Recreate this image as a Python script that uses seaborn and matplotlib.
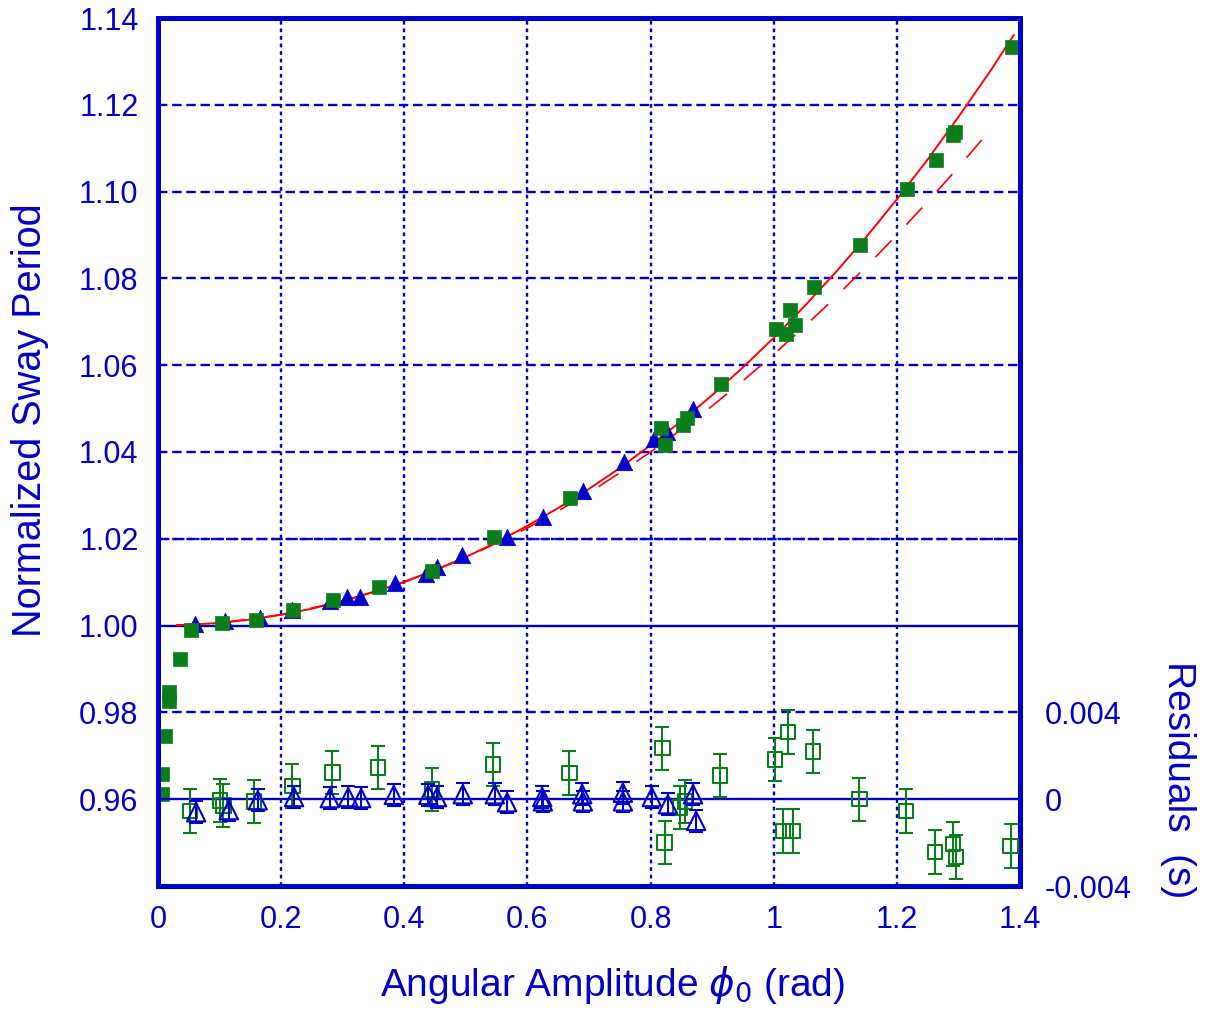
import matplotlib
matplotlib.use("Agg")
import matplotlib.pyplot as plt
import seaborn as sns
import pandas as pd

# ---------------- data ----------------
# exact theory curve (solid red)
theory_x = [0.03, 0.05, 0.10, 0.15, 0.20, 0.25, 0.30, 0.35, 0.40, 0.45, 0.50, 0.55,
            0.60, 0.65, 0.70, 0.75, 0.80, 0.85, 0.90, 0.95, 1.00, 1.05, 1.10, 1.15,
            1.20, 1.25, 1.30, 1.35, 1.39]
theory_T = [1.0001, 1.0002, 1.0006, 1.0014, 1.0025, 1.0039, 1.0057, 1.0077, 1.0101,
            1.0128, 1.0158, 1.0192, 1.0230, 1.0271, 1.0315, 1.0363, 1.0416, 1.0471,
            1.0531, 1.0595, 1.0663, 1.0736, 1.0813, 1.0895, 1.0982, 1.1074, 1.1172,
            1.1274, 1.1361]
# first-order approximation (dashed red)
approx_x = [0.03, 0.10, 0.20, 0.30, 0.40, 0.50, 0.60, 0.65, 0.70, 0.75, 0.80, 0.85,
            0.90, 0.95, 1.00, 1.05, 1.10, 1.15, 1.20, 1.25, 1.30, 1.36]
approx_T = [1.0001, 1.0006, 1.0025, 1.0056, 1.0100, 1.0156, 1.0225, 1.0264, 1.0306,
            1.0352, 1.0400, 1.0452, 1.0506, 1.0564, 1.0625, 1.0689, 1.0756, 1.0827,
            1.0900, 1.0977, 1.1056, 1.1156]

# green filled squares
sq_x = [0.006, 0.006, 0.011, 0.018, 0.018, 0.036, 0.054, 0.104, 0.159, 0.219, 0.284,
        0.359, 0.445, 0.546, 0.669, 0.817, 0.823, 0.853, 0.859, 0.914, 1.004, 1.020,
        1.026, 1.035, 1.065, 1.140, 1.216, 1.264, 1.291, 1.294, 1.387]
sq_T = [0.9612, 0.9658, 0.9745, 0.9846, 0.9826, 0.9922, 0.9991, 1.0005, 1.0014, 1.0035,
        1.0060, 1.0090, 1.0125, 1.0203, 1.0295, 1.0456, 1.0417, 1.0463, 1.0479, 1.0557,
        1.0684, 1.0672, 1.0728, 1.0693, 1.0780, 1.0877, 1.1006, 1.1073, 1.1130, 1.1137,
        1.1333]

# blue filled triangles
tri_x = [0.060, 0.109, 0.166, 0.218, 0.279, 0.307, 0.328, 0.385, 0.435, 0.453, 0.494,
         0.567, 0.625, 0.690, 0.757, 0.806, 0.827, 0.869]
tri_T = [1.0003, 1.0010, 1.0017, 1.0037, 1.0056, 1.0065, 1.0067, 1.0099, 1.0120, 1.0134,
         1.0162, 1.0205, 1.0251, 1.0311, 1.0378, 1.0429, 1.0445, 1.0498]

# residuals of green squares (s)
rsq_x = [0.052, 0.101, 0.106, 0.156, 0.218, 0.283, 0.357, 0.445, 0.544, 0.668, 0.819,
         0.823, 0.848, 0.856, 0.913, 1.002, 1.023, 1.015, 1.031, 1.064, 1.139, 1.215,
         1.262, 1.291, 1.296, 1.385]
rsq_r = [-0.00055, -0.00005, -0.00028, -0.00010, 0.00060, 0.00124, 0.00147, 0.00046,
         0.00160, 0.00120, 0.00235, -0.00200, -0.00037, -0.00010, 0.00110, 0.00184,
         0.00310, -0.00147, -0.00147, 0.00220, 0.00000, -0.00055, -0.00244, -0.00207,
         -0.00267, -0.00216]
rsq_err = [0.0010] * len(rsq_x)

# residuals of blue triangles (s)
rtri_x = [0.062, 0.115, 0.162, 0.221, 0.279, 0.309, 0.330, 0.383, 0.439, 0.453, 0.495,
          0.547, 0.567, 0.624, 0.625, 0.689, 0.690, 0.755, 0.755, 0.802, 0.828, 0.869,
          0.874]
rtri_r = [-0.00060, -0.00050, -0.00005, 0.00010, 0.00005, 0.00010, 0.00005, 0.00020,
          0.00020, 0.00010, 0.00023, 0.00023, -0.00014, 0.00010, -0.00010, 0.00023,
          -0.00010, 0.00030, -0.00010, 0.00010, -0.00023, 0.00023, -0.00100]
rtri_err = [0.0005] * len(rtri_x)

x_ticks = [0, 0.2, 0.4, 0.6, 0.8, 1.0, 1.2, 1.4]
x_labels = ["0", "0.2", "0.4", "0.6", "0.8", "1", "1.2", "1.4"]
y_ticks = [0.96, 0.98, 1.00, 1.02, 1.04, 1.06, 1.08, 1.10, 1.12, 1.14]
y_labels = ["0.96", "0.98", "1.00", "1.02", "1.04", "1.06", "1.08", "1.10", "1.12", "1.14"]
r_ticks = [-0.004, 0, 0.004]
r_labels = ["-0.004", "0", "0.004"]

# ---------------- style ----------------
BLUE = "#0000cc"
GREEN = "#0b7d1b"
RED = "#ff0000"

sns.set_style("white")
plt.rcParams["font.family"] = ["Liberation Sans", "DejaVu Sans"]
plt.rcParams["mathtext.fontset"] = "dejavusans"

fig = plt.figure(figsize=(12.07, 10.22), dpi=100)
ax = fig.add_axes([158 / 1207, 1 - 886 / 1022, (1020 - 158) / 1207, (886 - 18) / 1022])
ax2 = ax.twinx()

ax.set_xlim(0, 1.4)
ax.set_ylim(0.94, 1.14)
ax2.set_ylim(-0.004, 0.036)

# grid
for xv in x_ticks[1:-1]:
    ax.axvline(xv, color=BLUE, lw=1.7, ls=(0, (1.6, 1.6)), zorder=1)
for yv in y_ticks:
    if yv in (0.96, 1.00, 1.14):
        continue
    ax.axhline(yv, color=BLUE, lw=1.7, ls=(0, (4, 2)), zorder=1)
ax.axhline(1.02, color=BLUE, lw=1.7, ls=(0, (1.6, 1.6)), zorder=1)
ax.axhline(1.00, color=BLUE, lw=1.7, zorder=1)
ax2.axhline(0.0, color=BLUE, lw=1.7, zorder=1)

# theory curves
sns.lineplot(x=approx_x, y=approx_T, ax=ax, color=RED, lw=1.2, ls=(0, (14, 13)),
             sort=False, estimator=None, zorder=2)
sns.lineplot(x=theory_x, y=theory_T, ax=ax, color=RED, lw=1.4,
             sort=False, estimator=None, zorder=2)

# main data
sns.scatterplot(x=tri_x, y=tri_T, ax=ax, marker="^", s=140, color=BLUE,
                edgecolor=BLUE, linewidth=0.5, zorder=3)
sns.scatterplot(x=sq_x, y=sq_T, ax=ax, marker="s", s=115, color=GREEN,
                edgecolor=GREEN, linewidth=0.5, zorder=4)

# residuals
ax2.errorbar(rsq_x, rsq_r, yerr=rsq_err, fmt="none", ecolor=GREEN, elinewidth=1.5,
             capsize=5, capthick=1.5, zorder=3)
sns.scatterplot(x=rsq_x, y=rsq_r, ax=ax2, marker="s", s=110, color=GREEN,
                facecolor="none", edgecolor=GREEN, linewidth=1.5, zorder=3)
ax2.errorbar(rtri_x, rtri_r, yerr=rtri_err, fmt="none", ecolor=BLUE, elinewidth=1.5,
             capsize=5, capthick=1.5, zorder=4)
sns.scatterplot(x=rtri_x, y=rtri_r, ax=ax2, marker="^", s=175, color=BLUE,
                facecolor="none", edgecolor=BLUE, linewidth=1.5, zorder=4)

# ticks
ax.set_xticks(x_ticks)
ax.set_xticklabels(x_labels)
ax.set_yticks(y_ticks)
ax.set_yticklabels(y_labels)
ax2.set_yticks(r_ticks)
ax2.set_yticklabels(r_labels)
ax.tick_params(axis="both", length=0, labelsize=22, labelcolor=BLUE)
ax.tick_params(axis="x", pad=14)
ax.tick_params(axis="y", pad=14)
ax2.tick_params(axis="y", length=0, labelsize=22, labelcolor=BLUE, pad=18)

# spines
for sp in ax.spines.values():
    sp.set_color(BLUE)
    sp.set_linewidth(3.6)
    sp.set_zorder(10)
for sp in ax2.spines.values():
    sp.set_visible(False)

# labels
ax.set_xlabel(r"Angular Amplitude $\phi_0$ (rad)", fontsize=28, color=BLUE)
ax.xaxis.set_label_coords((612 - 158) / 862, (886 - 985) / 868)
ax.xaxis.label.set_verticalalignment("center")
ax.set_ylabel("Normalized Sway Period", fontsize=28.5, color=BLUE)
ax.yaxis.set_label_coords((30 - 158) / 862, 1 - (420 - 18) / 868)
ax.yaxis.label.set_verticalalignment("center")
ax2.set_ylabel("Residuals  (s)", fontsize=28, color=BLUE, rotation=270)
ax2.yaxis.set_label_coords((1178 - 158) / 862, 1 - (780 - 18) / 868)
ax2.yaxis.label.set_verticalalignment("center")
ax2.yaxis.label.set_horizontalalignment("center")

for a in (ax, ax2):
    leg = a.get_legend()
    if leg is not None:
        leg.remove()

fig.savefig("out.png", dpi=100)
